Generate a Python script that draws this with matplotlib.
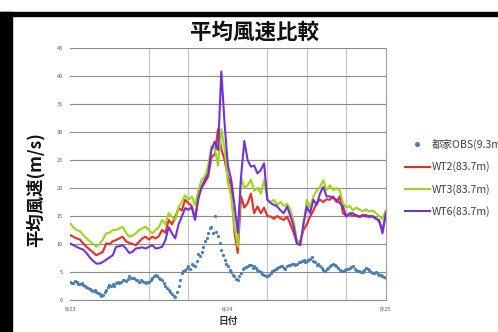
import numpy as np
import matplotlib
matplotlib.use("Agg")
import matplotlib.pyplot as plt
from matplotlib.patches import Rectangle

plt.rcParams["font.family"] = ["Noto Sans CJK JP", "DejaVu Sans"]

# hours since 8/23 00:00
hours = np.arange(0, 48.5, 0.5)        # turbines, every 30 minutes
obs_hours = np.arange(0, 48.25, 0.25)  # ground station, every 15 minutes

obs = [3.3, 3.1, 3.0, 3.4, 3.2, 2.9, 2.8, 3.0, 2.6, 2.5, 2.4, 2.2, 2.0, 1.8, 1.6, 1.7, 1.5,
       1.2, 1.0, 0.8, 0.9, 1.4, 1.8, 2.3, 2.7, 2.5, 2.8, 2.5, 3.0, 3.2, 3.0, 3.2, 3.6,
       3.5, 3.4, 3.8, 4.2, 4.0, 3.9, 4.0, 3.5, 3.6, 3.3, 3.5, 3.4, 3.2, 3.0, 3.3, 3.2,
       3.6, 4.0, 4.3, 4.5, 4.2, 4.0, 3.8, 3.6, 3.0, 2.5, 2.2, 1.8, 1.4, 1.0, 0.8, 0.6,
       1.5, 2.5, 3.5, 4.8, 5.2, 5.4, 5.8, 6.0, 5.6, 6.5, 6.2, 6.0, 7.0, 8.3, 7.8, 8.5,
       9.5, 10.5, 11.0, 12.0, 12.8, 13.1, 12.0, 15.0, 12.2, 11.5, 10.2, 9.0, 8.0, 7.1, 6.5, 6.0,
       5.4, 5.0, 4.4, 4.2, 3.8, 3.6, 4.2, 4.8, 5.5, 5.7, 5.9, 6.0, 6.3, 6.2, 5.8, 6.0,
       5.7, 5.4, 5.2, 5.0, 4.7, 4.5, 4.3, 4.2, 4.5, 4.8, 5.2, 5.4, 5.5, 5.7, 5.9, 6.0,
       6.0, 5.8, 5.6, 6.0, 6.2, 6.3, 6.4, 6.5, 6.3, 6.5, 6.8, 6.8, 7.0, 7.1, 6.8, 7.0,
       7.2, 7.4, 7.6, 7.0, 6.8, 6.3, 6.5, 6.0, 5.8, 5.4, 5.2, 5.6, 5.8, 6.0, 6.3, 6.5,
       6.2, 6.0, 5.8, 5.4, 5.2, 5.1, 5.3, 5.5, 5.6, 5.7, 5.9, 6.0, 5.6, 5.4, 5.2, 5.1,
       5.0, 5.0, 5.3, 5.7, 5.5, 5.3, 5.0, 4.8, 4.9, 5.0, 4.7, 4.5, 4.4, 4.2, 4.1, 4.0]

wt2 = [11.6, 11.3, 11.0, 10.8, 10.1, 9.5, 9.0, 8.5, 8.0, 8.3, 8.6, 10.1, 10.0, 10.5, 10.7, 11.0,
       11.3, 10.5, 10.2, 10.0, 9.8, 10.4, 11.0, 11.3, 10.8, 11.3, 11.0, 11.4, 12.5, 12.0, 14.3, 13.5,
       14.8, 16.4, 16.0, 17.9, 17.3, 16.8, 14.5, 18.5, 20.0, 21.0, 22.0, 25.5, 26.0, 30.5, 27.0, 25.0,
       22.0, 20.5, 12.0, 8.4, 18.5, 16.5, 17.3, 19.0, 15.5, 16.7, 15.5, 16.5, 15.0, 14.9, 14.5, 15.0,
       14.6, 14.3, 14.9, 13.5, 12.0, 10.1, 10.5, 12.5, 13.5, 14.9, 16.0, 17.3, 17.9, 17.5, 18.0, 17.9,
       18.5, 17.5, 18.5, 15.5, 15.0, 15.3, 15.0, 15.2, 14.8, 15.0, 15.2, 14.8, 15.0, 14.6, 14.0, 12.5, 15.0]

wt3 = [13.7, 13.0, 12.5, 12.3, 11.6, 11.0, 10.5, 10.0, 9.5, 10.0, 10.8, 11.9, 12.0, 12.5, 12.5, 12.8,
       13.1, 12.0, 11.3, 11.5, 11.9, 12.5, 12.8, 13.1, 12.5, 11.9, 12.5, 13.0, 14.3, 13.5, 15.5, 14.8,
       14.3, 16.5, 17.5, 18.7, 17.9, 18.5, 17.0, 19.5, 21.5, 22.0, 24.0, 27.5, 27.0, 24.0, 30.5, 27.0,
       21.0, 18.5, 13.0, 9.5, 22.0, 20.0, 20.5, 21.5, 19.5, 20.0, 19.0, 21.4, 17.9, 17.5, 17.9, 17.0,
       17.5, 16.8, 17.2, 16.1, 14.0, 10.7, 9.8, 13.5, 17.9, 16.5, 18.5, 19.5, 20.2, 21.4, 19.6, 20.5,
       19.6, 20.0, 19.6, 17.3, 16.5, 16.8, 16.0, 16.5, 16.2, 15.8, 16.2, 15.8, 16.0, 15.5, 15.0, 14.5, 16.0]

wt6 = [10.1, 9.8, 9.5, 9.2, 9.0, 8.4, 7.6, 7.0, 6.5, 6.5, 6.8, 7.2, 7.6, 8.0, 9.5, 9.6,
       9.8, 9.2, 8.4, 8.6, 9.2, 9.3, 9.4, 9.2, 9.5, 9.8, 9.2, 9.3, 9.5, 10.7, 13.0, 11.9,
       11.0, 13.5, 14.9, 16.4, 16.1, 16.6, 14.3, 18.0, 20.2, 21.5, 22.5, 26.8, 28.3, 26.8, 40.8, 31.5,
       24.0, 21.5, 17.0, 12.0, 22.0, 28.4, 25.0, 23.8, 24.0, 22.6, 23.2, 24.4, 17.9, 17.3, 17.0, 16.7,
       16.0, 15.5, 16.7, 15.0, 13.1, 10.1, 9.8, 13.7, 16.7, 15.5, 17.9, 17.0, 19.0, 20.2, 18.5, 18.5,
       18.2, 17.9, 17.3, 16.7, 14.9, 15.5, 15.5, 15.0, 14.9, 15.2, 14.9, 15.0, 14.9, 14.5, 14.3, 11.9, 15.5]

labels = ["都家OBS(9.3m)", "WT2(83.7m)", "WT3(83.7m)", "WT6(83.7m)"]
date_ticks = [0, 24, 48]
date_labels = ["8/23", "8/24", "8/25"]
yticks = [0, 5, 10, 15, 20, 25, 30, 35, 40, 45]

fig = plt.figure(figsize=(4.98, 3.32), dpi=100)
ax = fig.add_axes([0.1406, 0.0964, 0.634, 0.759])

ax.plot(obs_hours, obs, linestyle="none", marker="o", markersize=1.3,
        color="#4a7ebb", label=labels[0])
ax.plot(hours, wt2, color="#ee2a24", linewidth=1.5, label=labels[1])
ax.plot(hours, wt3, color="#9dd51c", linewidth=1.5, label=labels[2])
ax.plot(hours, wt6, color="#7232d8", linewidth=1.5, label=labels[3])

ax.set_xlim(0, 48)
ax.set_ylim(0, 45)
ax.set_yticks(yticks)
ax.set_yticklabels([str(v) for v in yticks])
ax.set_xticks(date_ticks)
ax.set_xticklabels(date_labels)
ax.set_xticks([12, 18, 30, 36, 42], minor=True)
ax.tick_params(axis="both", which="both", length=0, labelsize=4, colors="#555555", pad=5)

ax.grid(axis="y", color="#8c8c8c", linewidth=0.8)
ax.grid(axis="x", which="minor", color="#c4c4c4", linewidth=0.8)
ax.set_axisbelow(True)
for side in ["left", "top"]:
    ax.spines[side].set_visible(False)
ax.spines["bottom"].set_color("#8c8c8c")
ax.spines["right"].set_color("#a0a0a0")

ax.set_xlabel("日付", fontsize=7, fontweight="bold", color="#333333", labelpad=3)
fig.text(0.07, 0.428, "平均風速(m/s)", rotation=90, fontsize=12.5, fontweight="bold",
         ha="center", va="center", color="#111111")
fig.text(0.512, 0.904, "平均風速比較", fontsize=15.5, fontweight="bold",
         ha="center", va="center", color="#111111")

ax.legend(loc="center left", bbox_to_anchor=(0.813, 0.464), bbox_transform=fig.transFigure,
          frameon=False, fontsize=7.6, handlelength=2.37, handletextpad=0.2,
          labelspacing=1.08, borderpad=0, borderaxespad=0, markerscale=2.0,
          labelcolor="#404040")

# black screenshot frame
fig.patches.append(Rectangle((0, 0), 12 / 498, 1 - 12 / 332, transform=fig.transFigure,
                             color="black", zorder=10))
fig.patches.append(Rectangle((0, 1 - 16 / 332), 1, 4 / 332, transform=fig.transFigure,
                             color="black", zorder=10))

fig.savefig("out.png", dpi=100)
